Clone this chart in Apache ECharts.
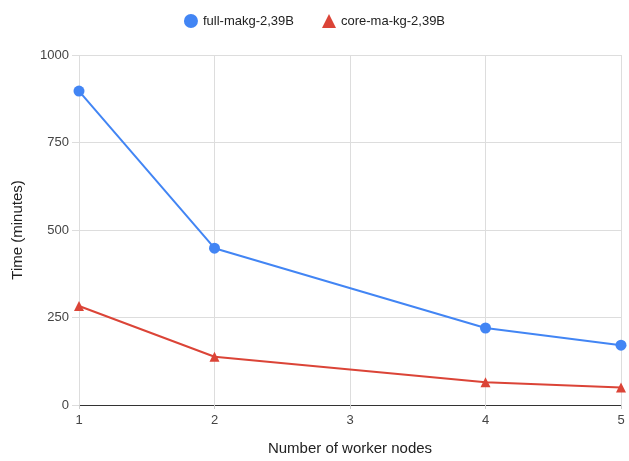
<!DOCTYPE html>
<html>
<head>
<meta charset="utf-8">
<script src="https://cdn.jsdelivr.net/npm/echarts@6/dist/echarts.min.js"></script>
<style>
  html, body { margin: 0; padding: 0; background: #fff; }
  #chart { width: 629px; height: 461px; }
</style>
</head>
<body>
<div id="chart"></div>
<script>
// Worker node counts and run times (minutes) for the two graphs
const workerNodes = [1, 2, 4, 5];
const fullMakg = [897, 448, 220, 171];
const coreMaKg = [283, 138, 65, 50];
const seriesNames = ['full-makg-2,39B', 'core-ma-kg-2,39B'];
const yTicks = [0, 250, 500, 750, 1000];

const chart = echarts.init(document.getElementById('chart'));
const font = '"Liberation Sans", Arial, sans-serif';

chart.setOption({
  animation: false,
  backgroundColor: '#fff',
  textStyle: { fontFamily: font },
  legend: {
    top: 9,
    left: 'center',
    itemGap: 28,
    itemWidth: 14,
    itemHeight: 14,
    textStyle: { fontSize: 13, color: '#222', fontFamily: font },
    data: [
      { name: seriesNames[0], icon: 'circle' },
      { name: seriesNames[1], icon: 'triangle' }
    ]
  },
  grid: { left: 79, right: 8, top: 55, bottom: 55 },
  xAxis: {
    type: 'value',
    min: 1,
    max: 5,
    interval: 1,
    name: 'Number of worker nodes',
    nameLocation: 'middle',
    nameGap: 36,
    nameTextStyle: { fontSize: 15, color: '#222', fontFamily: font },
    axisLine: { show: true, lineStyle: { color: '#333', width: 1 } },
    axisTick: { show: true, length: 4, lineStyle: { color: '#ccc' } },
    axisLabel: { fontSize: 13, color: '#444', margin: 9, fontFamily: font },
    splitLine: { show: true, lineStyle: { color: '#ddd' } }
  },
  yAxis: {
    type: 'value',
    min: yTicks[0],
    max: yTicks[yTicks.length - 1],
    interval: 250,
    name: 'Time (minutes)',
    nameLocation: 'middle',
    nameGap: 54,
    nameTextStyle: { fontSize: 15, color: '#222', fontFamily: font },
    axisLine: { show: false },
    axisTick: { show: true, length: 7, lineStyle: { color: '#ddd' } },
    axisLabel: { fontSize: 13, color: '#444', margin: 10, fontFamily: font, formatter: v => String(v) },
    splitLine: { show: true, lineStyle: { color: '#ddd' } }
  },
  series: [
    {
      name: seriesNames[0],
      type: 'line',
      data: workerNodes.map((x, i) => [x, fullMakg[i]]),
      symbol: 'circle',
      symbolSize: 11,
      lineStyle: { color: '#4285F4', width: 2 },
      itemStyle: { color: '#4285F4' },
      z: 3
    },
    {
      name: seriesNames[1],
      type: 'line',
      data: workerNodes.map((x, i) => [x, coreMaKg[i]]),
      symbol: 'triangle',
      symbolSize: 10,
      lineStyle: { color: '#DB4437', width: 2 },
      itemStyle: { color: '#DB4437' },
      z: 2
    }
  ]
});
</script>
</body>
</html>
